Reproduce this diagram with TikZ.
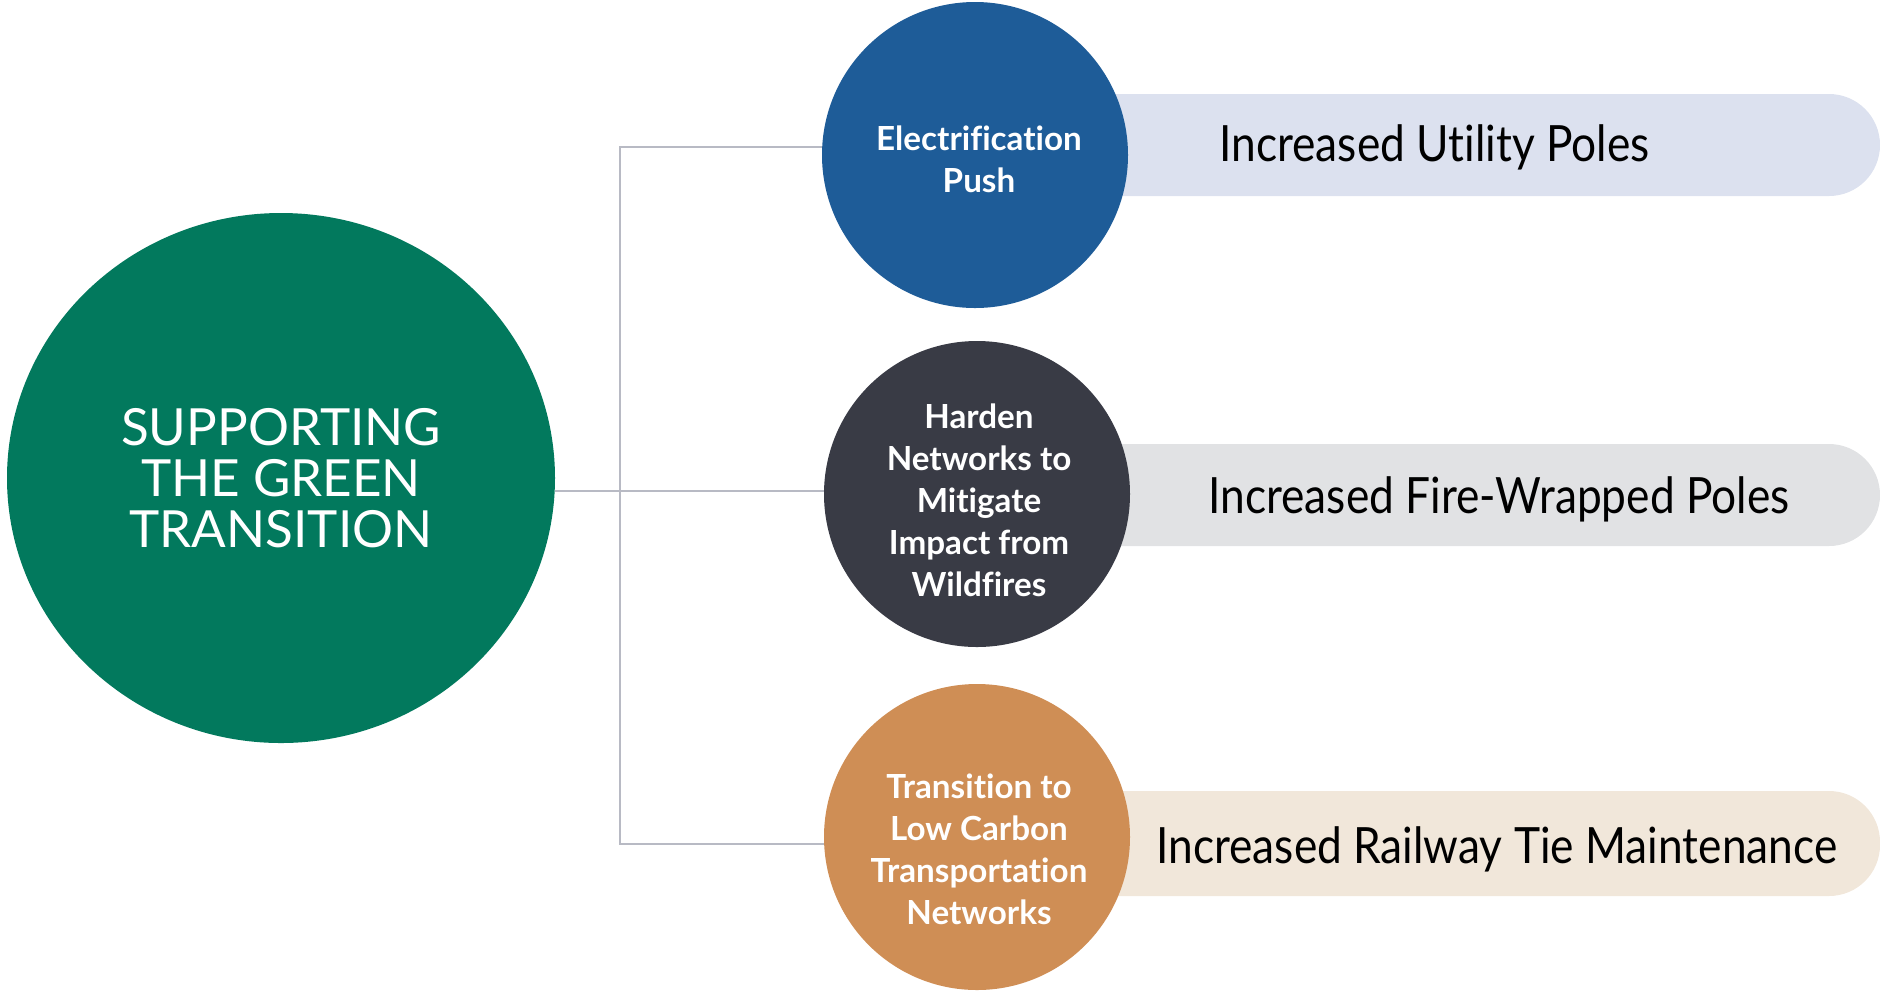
\documentclass[tikz,border=0pt]{standalone}
\usepackage{fontspec}
\setmainfont{Lato}[Ligatures=NoCommon]
\newfontfamily\pillfont[FakeStretch=0.885,Ligatures=NoCommon]{Lato}
\usetikzlibrary{shapes.geometric}
\definecolor{cgreen}{HTML}{02795D}
\definecolor{cblue}{HTML}{1E5C98}
\definecolor{cdark}{HTML}{393B45}
\definecolor{corange}{HTML}{CF8E55}
\definecolor{pblue}{HTML}{DCE1EF}
\definecolor{pgray}{HTML}{E1E2E4}
\definecolor{pbeige}{HTML}{F1E7DA}
\definecolor{cline}{HTML}{B8BAC4}
\tikzset{
  sub/.style={circle, minimum size=153pt, inner sep=0pt},
  subtext/.style={inner sep=0pt, text=white, align=center,
    font=\bfseries\fontsize{16.6}{21}\selectfont},
  pill/.style={rounded corners=25.5pt},
  pilltext/.style={anchor=base west, inner sep=0pt, font=\pillfont\fontsize{25}{30}\selectfont, text=black},
  conn/.style={draw=cline, line width=1pt},
}
\begin{document}
\begin{tikzpicture}[x=0.5pt,y=-0.5pt]
\useasboundingbox (0,0) rectangle (1880,993);
% pills
\fill[pblue, pill] (975,94) rectangle (1880,196);
\fill[pgray, pill] (977,444) rectangle (1880,546);
\fill[pbeige, pill] (977,791) rectangle (1880,896);
% main node
\node[ellipse, fill=cgreen, minimum width=274pt, minimum height=265pt, inner sep=0pt,
  text=white, align=center, font=\fontsize{25.6}{25.5}\selectfont] (main) at (281,478)
  {SUPPORTING\\THE GREEN\\TRANSITION};
% sub nodes
\node[sub, fill=cblue] (elec) at (975,155) {};
\node[sub, fill=cdark] (hard) at (977,494) {};
\node[sub, fill=corange] (trans) at (977,837) {};
\node[subtext] (elect) at (979,159) {Electrification\\Push};
\node[subtext] (hardt) at (979,500) {Harden\\Networks to\\Mitigate\\Impact from\\Wildfires};
\node[subtext] (transt) at (979,849) {Transition to\\Low Carbon\\Transportation\\Networks};
% pill texts
\node[pilltext] (t1) at (1219,161) {Increased Utility Poles};
\node[pilltext] (t2) at (1208,513) {Increased Fire-Wrapped Poles};
\node[pilltext] (t3) at (1156,863) {Increased Railway Tie Maintenance};
% connectors
\coordinate (jt) at (620,147);
\coordinate (jm) at (620,491);
\coordinate (jb) at (620,844);
\draw[conn] (elec.west |- jt) -- (jt) -- (jb) -- (trans.west |- jb);
\draw[conn] (main.east |- jm) -- (hard.west |- jm);
\end{tikzpicture}
\end{document}
